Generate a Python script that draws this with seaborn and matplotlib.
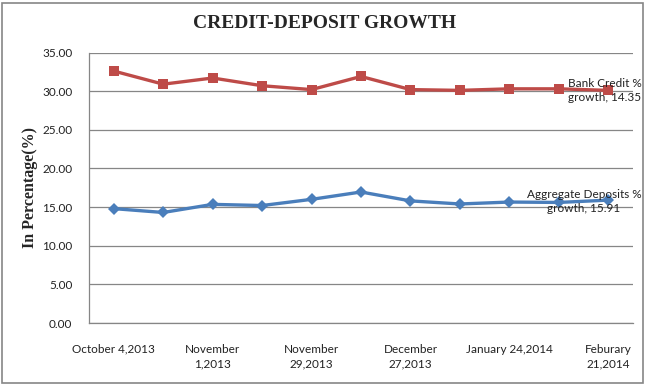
import pandas as pd
import matplotlib.pyplot as plt
import matplotlib.patches as patches
import seaborn as sns

# data
dates = ['October 4,2013', 'October 18,2013', 'November\n1,2013', 'November\n15,2013',
         'November\n29,2013', 'December\n13,2013', 'December\n27,2013', 'January\n10,2014',
         'January 24,2014', 'Feburary\n7,2014', 'Feburary\n21,2014']
bank_credit = [32.6, 30.9, 31.7, 30.7, 30.2, 31.9, 30.2, 30.1, 30.3, 30.3, 30.1]
agg_deposits = [14.8, 14.3, 15.35, 15.2, 16.0, 16.95, 15.8, 15.4, 15.65, 15.6, 15.9]
y_ticks = [0, 5, 10, 15, 20, 25, 30, 35]

df = pd.DataFrame({
    'date': dates * 2,
    'value': bank_credit + agg_deposits,
    'series': ['Bank Credit % growth'] * len(dates) + ['Aggregate Deposits % growth'] * len(dates),
})

sns.set_style('white')
plt.rcParams['font.family'] = ['Lato', 'DejaVu Sans']

fig = plt.figure(figsize=(6.5, 3.85), dpi=100)
ax = fig.add_axes([89 / 650, 1 - 323 / 385, (633 - 89) / 650, (323 - 52.5) / 385])

grid_col = '#868686'
for yv in y_ticks:
    ax.axhline(yv, color=grid_col, lw=0.9, zorder=0)

sns.lineplot(data=df[df.series == 'Bank Credit % growth'], x='date', y='value',
             color='#BE4B48', lw=2.4, marker='s', markersize=7.5, markeredgewidth=0,
             sort=False, ax=ax)
sns.lineplot(data=df[df.series == 'Aggregate Deposits % growth'], x='date', y='value',
             color='#4A7EBB', lw=2.4, marker='D', markersize=6, markeredgewidth=0,
             sort=False, ax=ax)

ax.set_xlim(-0.5, len(dates) - 0.5)
ax.set_ylim(0, 35)
ax.set_yticks(y_ticks)
ax.set_yticklabels([f'{v:.2f}' for v in y_ticks], fontsize=8.5, color='#222222')
ax.set_xticks(range(len(dates)))
ax.set_xticklabels([d if i % 2 == 0 else '' for i, d in enumerate(dates)],
                   fontsize=8.5, color='#222222', linespacing=1.35)
ax.tick_params(axis='both', length=0)
ax.tick_params(axis='y', pad=12)
ax.tick_params(axis='x', pad=15)

for side in ['top', 'right']:
    ax.spines[side].set_visible(False)
for side in ['left', 'bottom']:
    ax.spines[side].set_color(grid_col)
    ax.spines[side].set_linewidth(0.9)

ax.set_xlabel('')
ax.set_ylabel('In Percentage(%)', fontsize=11.5, fontweight='bold',
              family='Liberation Serif', labelpad=8)
ax.yaxis.set_label_coords(-0.094, 0.5)

ax.text(9.19, 30.1, 'Bank Credit %\ngrowth, 14.35', fontsize=8.5, color='#222222',
        ha='left', va='center', linespacing=1.3)
ax.text(9.51, 15.7, 'Aggregate Deposits %\ngrowth, 15.91', fontsize=8.5, color='#222222',
        ha='center', va='center', linespacing=1.3)

fig.text(325 / 650, 1 - 24 / 385, 'CREDIT-DEPOSIT GROWTH', fontsize=14, fontweight='bold',
         family='Liberation Serif', ha='center', va='center')

fig.patches.append(patches.Rectangle((1.5 / 650, 2.5 / 385), 641 / 650, 380 / 385,
                                     transform=fig.transFigure, fill=False,
                                     edgecolor=grid_col, lw=1.2))

fig.savefig('out.png', dpi=100)
